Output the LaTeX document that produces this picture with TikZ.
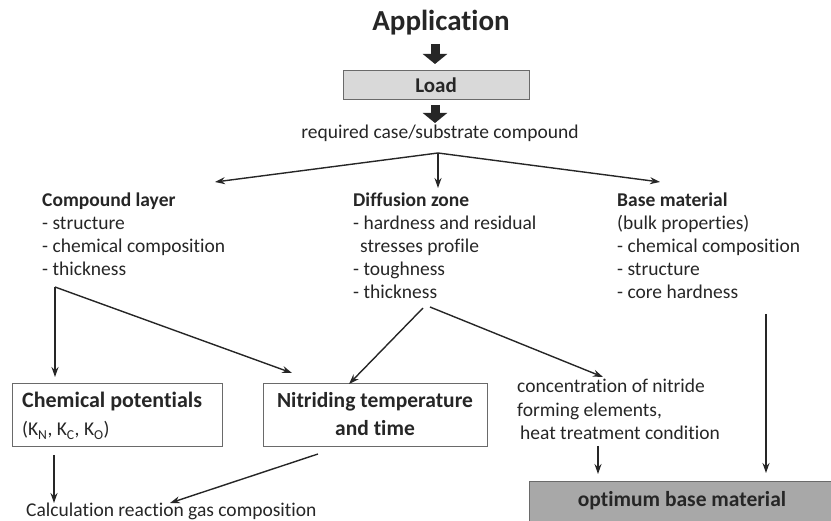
\documentclass[tikz,border=0pt]{standalone}
\usepackage{fontspec}
\setmainfont{Carlito}[Ligatures={NoCommon}]
\usetikzlibrary{arrows.meta}

\definecolor{ink}{HTML}{262626}
\definecolor{frame}{HTML}{6A6A6A}
\definecolor{lightfill}{HTML}{D9D9D9}
\definecolor{darkfill}{HTML}{A8A8A8}

\tikzset{
  txt/.style={font=\fontsize{19.5}{23}\selectfont, text=ink, inner sep=0pt, anchor=base west},
  head/.style={txt, font=\fontsize{19.5}{23}\selectfont\bfseries},
  boxtitle/.style={font=\fontsize{21.5}{26}\selectfont\bfseries, text=ink, inner sep=0pt, anchor=base},
  framed/.style={draw=frame, line width=1pt, inner sep=0pt},
  link/.style={draw=ink, line width=1.4pt, -{Stealth[length=10pt,width=7pt]}},
  bigarrow/.style={draw=ink, line width=9pt, -{Triangle[length=10pt,width=24pt]}},
}

\begin{document}
\begin{tikzpicture}[x=1pt, y=-1pt]
\useasboundingbox (0,0) rectangle (831,521);

% top of the flow
\node[font=\fontsize{29}{34}\selectfont\bfseries, text=ink, inner sep=0pt, anchor=base] (app) at (441,31) {Application};
\node[framed, fill=lightfill, minimum width=186, minimum height=29] (load) at (436,85.5) {};
\node[font=\fontsize{21}{25}\selectfont\bfseries, text=ink, inner sep=0pt, anchor=base] (loadtxt) at (436,93) {Load};
\coordinate (a1s) at (435,44);
\coordinate (a1e) at (435,64);
\coordinate (a2s) at (435,105);
\coordinate (a2e) at (435,123);
\draw[bigarrow] (a1s) -- (a1e);
\draw[bigarrow] (a2s) -- (a2e);
\node[txt, anchor=base] (req) at (440,139) {required case/substrate compound};

% split into the three zones
\coordinate (split) at (438,153);
\coordinate (clin) at (215,182);
\coordinate (dzin) at (438,188);
\coordinate (bmin) at (660,182);
\draw[link] (split) -- (clin);
\draw[link] (split) -- (dzin);
\draw[link] (split) -- (bmin);

% compound layer
\node[head] (cl0) at (42,207) {Compound layer};
\node[txt] (cl1) at (42,230) {- structure};
\node[txt] (cl2) at (42,253) {- chemical composition};
\node[txt] (cl3) at (42,276) {- thickness};

% diffusion zone
\node[head] (dz0) at (353,207) {Diffusion zone};
\node[txt] (dz1) at (353,230) {- hardness and residual};
\node[txt] (dz2) at (360,253) {stresses profile};
\node[txt] (dz3) at (353,276) {- toughness};
\node[txt] (dz4) at (353,299) {- thickness};

% base material
\node[head] (bm0) at (617,207) {Base material};
\node[txt] (bm1) at (617,230) {(bulk properties)};
\node[txt] (bm2) at (617,253) {- chemical composition};
\node[txt] (bm3) at (617,276) {- structure};
\node[txt] (bm4) at (617,299) {- core hardness};

% lower boxes
\node[framed, minimum width=210, minimum height=63] (chem) at (117,415.5) {};
\node[boxtitle, font=\fontsize{22}{26}\selectfont\bfseries, anchor=base west] (chemt) at (22,408) {Chemical potentials};
\node[txt] (chemk) at (22,436) {(K\textsubscript{N}, K\textsubscript{C}, K\textsubscript{O})};

\node[framed, minimum width=224, minimum height=63] (nit) at (375,415.5) {};
\node[boxtitle] (nitt) at (375,408) {Nitriding temperature};
\node[boxtitle] (nitb) at (375,436) {and time};

\node[txt] (con1) at (517,393) {concentration of nitride};
\node[txt] (con2) at (517,417) {forming elements,};
\node[txt] (con3) at (520,440) {heat treatment condition};

\node[framed, fill=darkfill, minimum width=306, minimum height=44] (opt) at (682,504) {};
\node[boxtitle] (optt) at (682,507) {optimum base material};

\node[txt] (calc) at (26,517) {Calculation reaction gas composition};

% connectors between the levels
\coordinate (clout) at (55,287);
\coordinate (chemin) at (55,377);
\coordinate (nitinl) at (292,373);
\coordinate (dzoutl) at (423,308);
\coordinate (nitinr) at (349,384);
\coordinate (dzoutr) at (430,307);
\coordinate (conin) at (603,377);
\coordinate (bmout) at (766,314);
\coordinate (optinr) at (766,473);
\coordinate (conout) at (598,446);
\coordinate (optinl) at (598,474);
\coordinate (chemout) at (54,455);
\coordinate (calcinl) at (54,503);
\coordinate (nitout) at (318,454);
\coordinate (calcinr) at (170,503);

\draw[link] (clout) -- (chemin);
\draw[link] (clout) -- (nitinl);
\draw[link] (dzoutl) -- (nitinr);
\draw[link] (dzoutr) -- (conin);
\draw[link] (bmout) -- (optinr);
\draw[link] (conout) -- (optinl);
\draw[link] (chemout) -- (calcinl);
\draw[link] (nitout) -- (calcinr);
\end{tikzpicture}
\end{document}
